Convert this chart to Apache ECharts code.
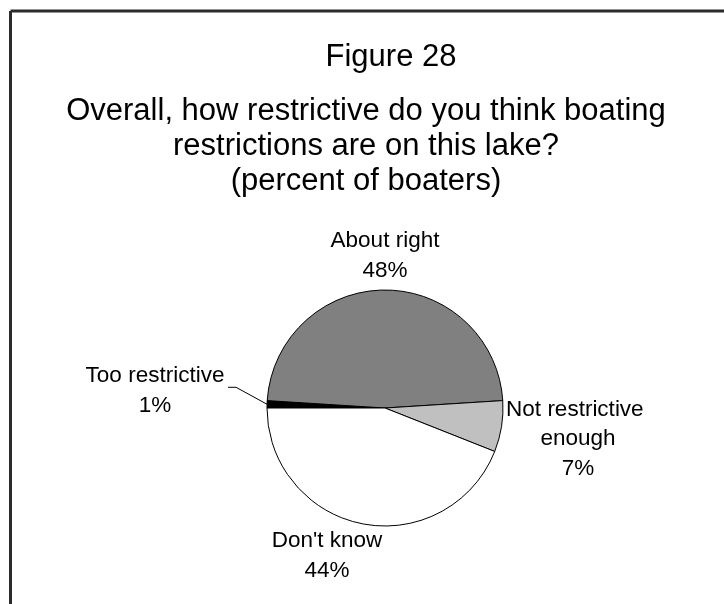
<!DOCTYPE html>
<html>
<head>
<meta charset="utf-8">
<script src="https://cdn.jsdelivr.net/npm/echarts@6/dist/echarts.min.js"></script>
<style>
  html, body { margin: 0; padding: 0; background: #fff; }
  #chart { width: 724px; height: 604px; }
</style>
</head>
<body>
<div id="chart"></div>
<script>
// Survey answers, in drawing order (clockwise from 9 o'clock)
const categories = ['Too restrictive', 'About right', 'Not restrictive enough', "Don't know"];
const percents = [1, 48, 7, 44];
const sliceColors = ['#000000', '#808080', '#c0c0c0', '#ffffff'];

const figureTitle = 'Figure 28';
const questionLines = [
  'Overall, how restrictive do you think boating',
  'restrictions are on this lake?',
  '(percent of boaters)'
];

// Where each slice label sits (centre of the text block)
const labelSpots = [
  { x: 155, y: 391 },
  { x: 385, y: 256 },
  { x: 578, y: 439 },
  { x: 327, y: 556 }
];

const FONT = '"Liberation Sans", Arial, sans-serif';

const chart = echarts.init(document.getElementById('chart'), null, { renderer: 'canvas' });

chart.setOption({
  backgroundColor: '#ffffff',
  animation: false,
  title: [
    {
      text: figureTitle,
      left: 386, top: 37, textAlign: 'center',
      textStyle: { fontFamily: FONT, fontSize: 31, fontWeight: 'normal', color: '#000' }
    },
    {
      text: questionLines.join('\n'),
      left: 361, top: 89, textAlign: 'center',
      textStyle: { fontFamily: FONT, fontSize: 31, fontWeight: 'normal', color: '#000', lineHeight: 35 }
    }
  ],
  graphic: [
    // frame: top and left edges
    { type: 'line', shape: { x1: 10.5, y1: 11, x2: 724, y2: 11 }, style: { stroke: '#2b2b2b', lineWidth: 3 } },
    { type: 'line', shape: { x1: 10.5, y1: 11, x2: 10.5, y2: 604 }, style: { stroke: '#2b2b2b', lineWidth: 3 } }
  ],
  series: [{
    type: 'pie',
    center: [385, 408],
    radius: 118,
    startAngle: 180,
    clockwise: true,
    avoidLabelOverlap: false,
    itemStyle: { borderColor: '#000', borderWidth: 1 },
    emphasis: { disabled: true },
    label: {
      show: true,
      position: 'outside',
      formatter: '{b}\n{c}%',
      fontFamily: FONT,
      fontSize: 22.5,
      lineHeight: 29.5,
      color: '#000',
      align: 'center'
    },
    labelLine: { show: false, lineStyle: { color: '#000', width: 1 } },
    labelLayout: function (p) {
      const spot = labelSpots[p.dataIndex];
      const out = { x: spot.x, y: spot.y, align: 'center', verticalAlign: 'middle' };
      if (p.dataIndex === 0 && p.labelLinePoints) {
        const e = p.labelLinePoints[0];
        out.labelLinePoints = [
          [e[0], e[1]],
          [e[0] - 31, e[1] - 17],
          [e[0] - 39, e[1] - 17]
        ];
      }
      return out;
    },
    data: categories.map((name, i) => ({
      name: name,
      value: percents[i],
      itemStyle: { color: sliceColors[i] },
      labelLine: { show: i === 0 },
      label: i === 2 ? { width: 155, overflow: 'break' } : {}
    }))
  }]
});
</script>
</body>
</html>
